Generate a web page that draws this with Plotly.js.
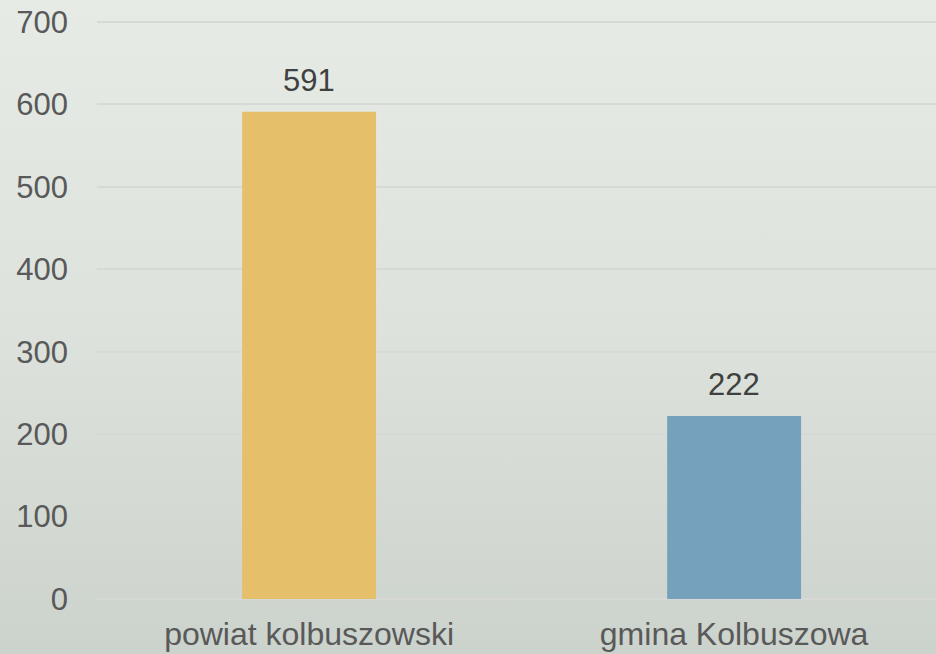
<!DOCTYPE html>
<html>
<head>
<meta charset="utf-8">
<script src="https://cdn.plot.ly/plotly-3.0.1.min.js"></script>
<style>
  html, body { margin: 0; padding: 0; }
  #chart { width: 936px; height: 654px; background: linear-gradient(to bottom, #e6ebe6 0%, #dde2dd 50%, #ccd2cc 100%); }
</style>
</head>
<body>
<div id="chart"></div>
<script>
const categories = ["powiat kolbuszowski", "gmina Kolbuszowa"];
const values = [591, 222];
const barColors = ["#e5bf6a", "#75a1bd"];
const yTicks = [0, 100, 200, 300, 400, 500, 600, 700];

const trace = {
  type: "bar",
  x: categories,
  y: values,
  width: 0.315,
  marker: { color: barColors },
  hoverinfo: "none"
};

const annotations = categories.map((c, i) => ({
  x: c,
  y: values[i],
  text: String(values[i]),
  showarrow: false,
  xanchor: "center",
  yanchor: "bottom",
  yshift: 12,
  font: { family: "Liberation Sans, Arial, sans-serif", size: 31, color: "#404040" }
}));

const layout = {
  width: 936,
  height: 654,
  margin: { l: 97, r: 0, t: 20, b: 55 },
  paper_bgcolor: "rgba(0,0,0,0)",
  plot_bgcolor: "rgba(0,0,0,0)",
  showlegend: false,
  font: { family: "Liberation Sans, Arial, sans-serif", size: 31, color: "#595959" },
  xaxis: {
    range: [-0.499, 1.475],
    showgrid: false,
    zeroline: false,
    showline: false,
    ticks: "",
    ticklabelstandoff: 13,
    tickfont: { size: 32, color: "#595959" }
  },
  yaxis: {
    range: [0, 702.4],
    tickvals: yTicks,
    ticktext: yTicks.map(String),
    showgrid: true,
    gridcolor: "#d6d9d6",
    gridwidth: 2,
    zeroline: true,
    zerolinecolor: "#d6d9d6",
    zerolinewidth: 2,
    showline: false,
    ticks: "",
    ticklabelstandoff: 28,
    tickfont: { size: 31, color: "#595959" }
  },
  annotations: annotations
};

Plotly.newPlot("chart", [trace], layout, { displayModeBar: false, staticPlot: true });
</script>
</body>
</html>
